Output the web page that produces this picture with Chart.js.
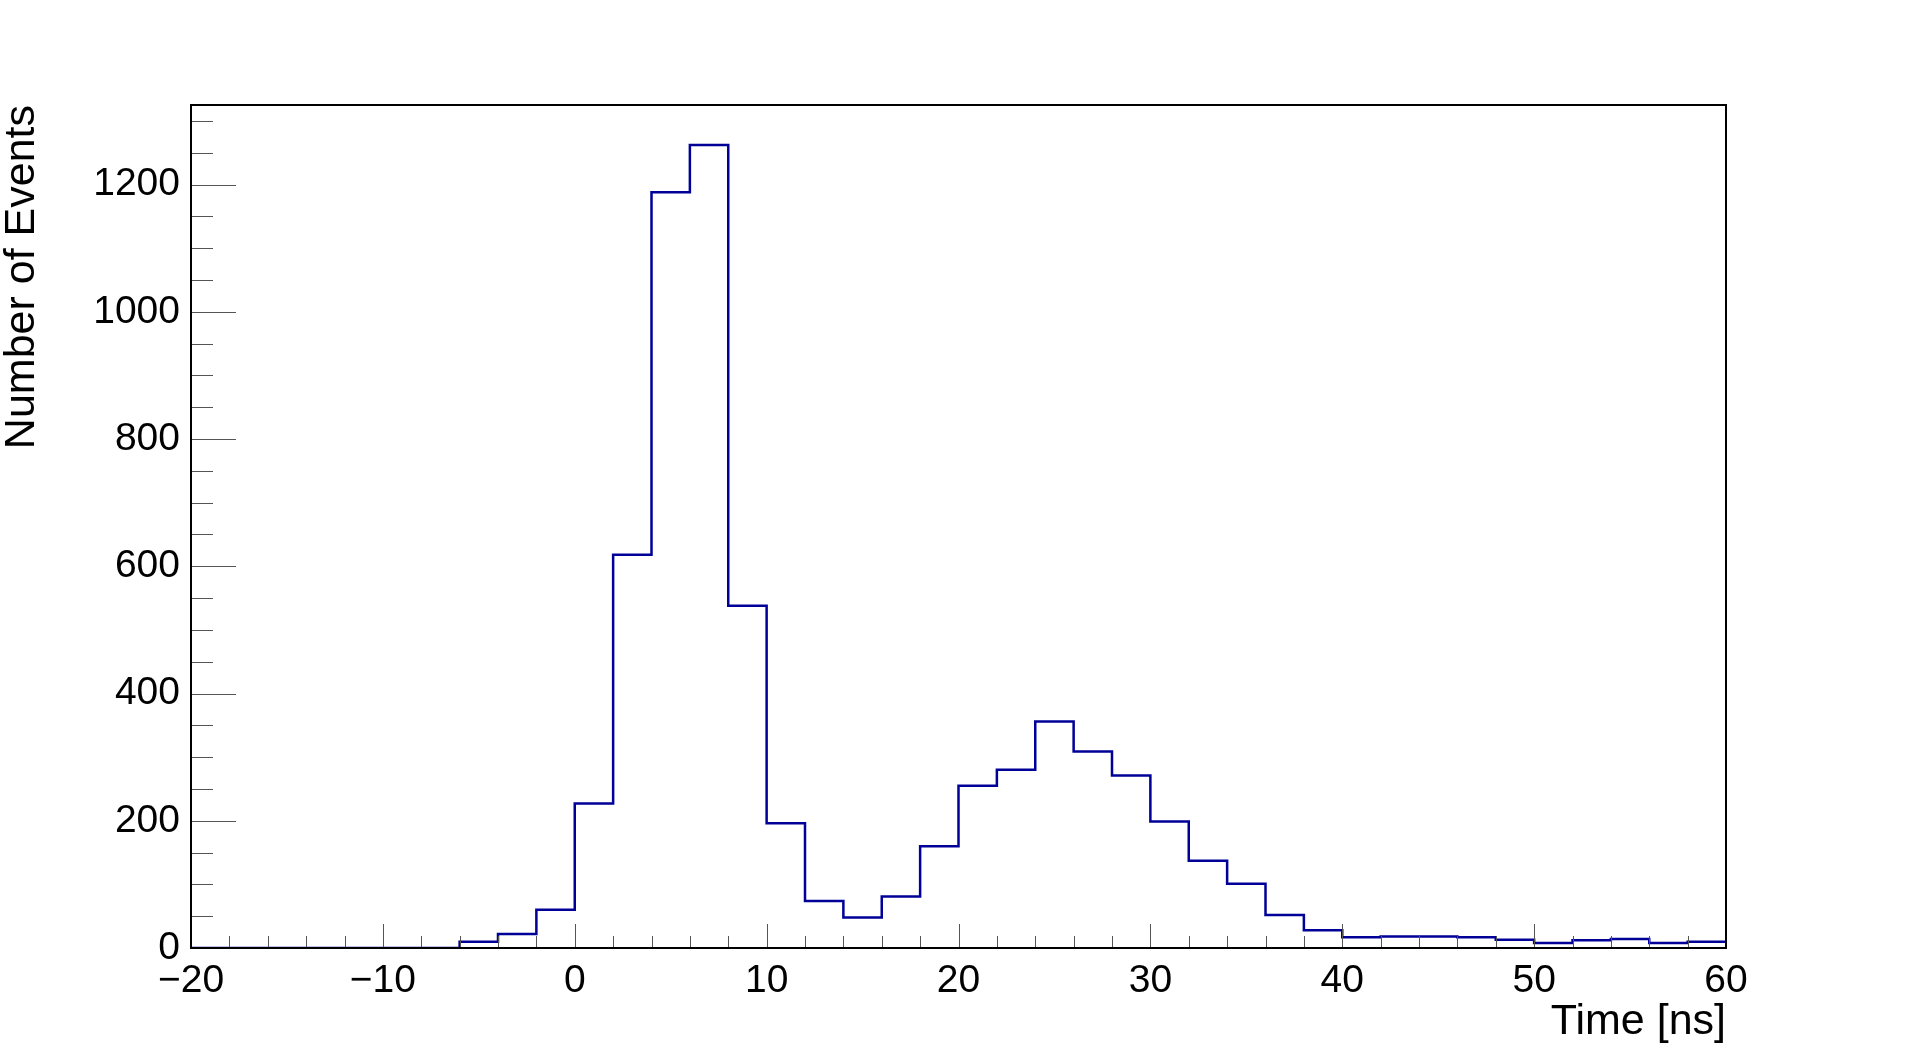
<!DOCTYPE html>
<html>
<head>
<meta charset="utf-8">
<script src="https://cdn.jsdelivr.net/npm/chart.js@4/dist/chart.umd.min.js"></script>
<style>
  body { margin: 0; background: #fff; }
  canvas { display: block; }
</style>
</head>
<body>
<canvas id="myChart" width="1918" height="1055"></canvas>
<script>
// bin edges in ns (2 ns wide bins from -20 to 60)
const binEdges = [
  -20, -18, -16, -14, -12, -10, -8, -6, -4, -2,
  0, 2, 4, 6, 8, 10, 12, 14, 16, 18,
  20, 22, 24, 26, 28, 30, 32, 34, 36, 38,
  40, 42, 44, 46, 48, 50, 52, 54, 56, 58, 60,
];

// entries per bin
const counts = [
  0, 0, 0, 0, 0, 0, 0, 10, 22, 60,
  227, 618, 1188, 1262, 538, 196, 74, 48, 81, 160,
  255, 280, 356, 309, 271, 199, 137, 101, 52, 28,
  17, 18, 18, 17, 13, 8, 12, 14, 8, 10,
];

const xTicks = [-20, -10, 0, 10, 20, 30, 40, 50, 60];
const yTicks = [0, 200, 400, 600, 800, 1000, 1200];

// step outline: each left edge carries its bin's count, plus the last right edge
const points = counts.map((c, i) => ({ x: binEdges[i], y: c }));
points.push({ x: binEdges[binEdges.length - 1], y: counts[counts.length - 1] });

const FONT = "'Liberation Sans', Arial, Helvetica, sans-serif";

// ROOT style frame with ticks drawn inside the pad
const rootFrame = {
  id: 'rootFrame',
  afterDatasetsDraw(chart) {
    const ctx = chart.ctx;
    const { left, right, top, bottom } = chart.chartArea;
    const xs = chart.scales.x, ys = chart.scales.y;
    ctx.save();
    ctx.strokeStyle = '#555';
    ctx.lineWidth = 1;
    ctx.beginPath();
    for (let v = 0; v <= ys.max; v += 50) {
      const p = Math.round(ys.getPixelForValue(v)) + 0.5;
      const len = v % 200 === 0 ? 45 : 22;
      ctx.moveTo(left, p);
      ctx.lineTo(left + len, p);
    }
    for (let v = xs.min; v <= xs.max; v += 2) {
      const p = Math.round(xs.getPixelForValue(v)) + 0.5;
      const len = v % 10 === 0 ? 24 : 12;
      ctx.moveTo(p, bottom);
      ctx.lineTo(p, bottom - len);
    }
    ctx.stroke();
    ctx.strokeStyle = '#000';
    ctx.lineWidth = 2;
    ctx.strokeRect(left, top, right - left, bottom - top);
    ctx.restore();
  }
};

const data = {
  datasets: [{
    label: 'Time',
    data: points,
    stepped: 'before',
    borderColor: '#000099',
    borderWidth: 2.5,
    pointRadius: 0,
    fill: false,
  }]
};

const config = {
  type: 'line',
  data: data,
  options: {
    responsive: false,
    animation: false,
    devicePixelRatio: 1,
    layout: {
      padding: { left: 0, right: 192, top: 105, bottom: 0 }
    },
    plugins: {
      legend: { display: false },
      tooltip: { enabled: false },
    },
    scales: {
      x: {
        type: 'linear',
        min: -20,
        max: 60,
        afterFit(scale) { scale.height = 107; },
        afterBuildTicks(scale) { scale.ticks = xTicks.map(v => ({ value: v })); },
        grid: { display: false, drawTicks: false },
        border: { display: false },
        ticks: {
          autoSkip: false,
          maxRotation: 0,
          padding: 10,
          color: '#000',
          font: { family: FONT, size: 39 },
          callback: v => (v < 0 ? '\u2212' + Math.abs(v) : String(v)),
        },
        title: {
          display: true,
          text: 'Time [ns]',
          align: 'end',
          color: '#000',
          font: { family: FONT, size: 43 },
          padding: { top: 0, bottom: 7 },
        },
      },
      y: {
        min: 0,
        max: 1325,
        afterFit(scale) { scale.width = 191; },
        afterBuildTicks(scale) { scale.ticks = yTicks.map(v => ({ value: v })); },
        grid: { display: false, drawTicks: false },
        border: { display: false },
        ticks: {
          padding: 11,
          color: '#000',
          font: { family: FONT, size: 39 },
          callback: v => String(v),
        },
        title: {
          display: true,
          text: 'Number of Events',
          align: 'end',
          color: '#000',
          font: { family: FONT, size: 43, lineHeight: 1.05 },
          padding: { top: 0, bottom: 0 },
        },
      },
    },
  },
  plugins: [rootFrame],
};

const myChart = new Chart(
  document.getElementById('myChart'),
  config
);
</script>
</body>
</html>
